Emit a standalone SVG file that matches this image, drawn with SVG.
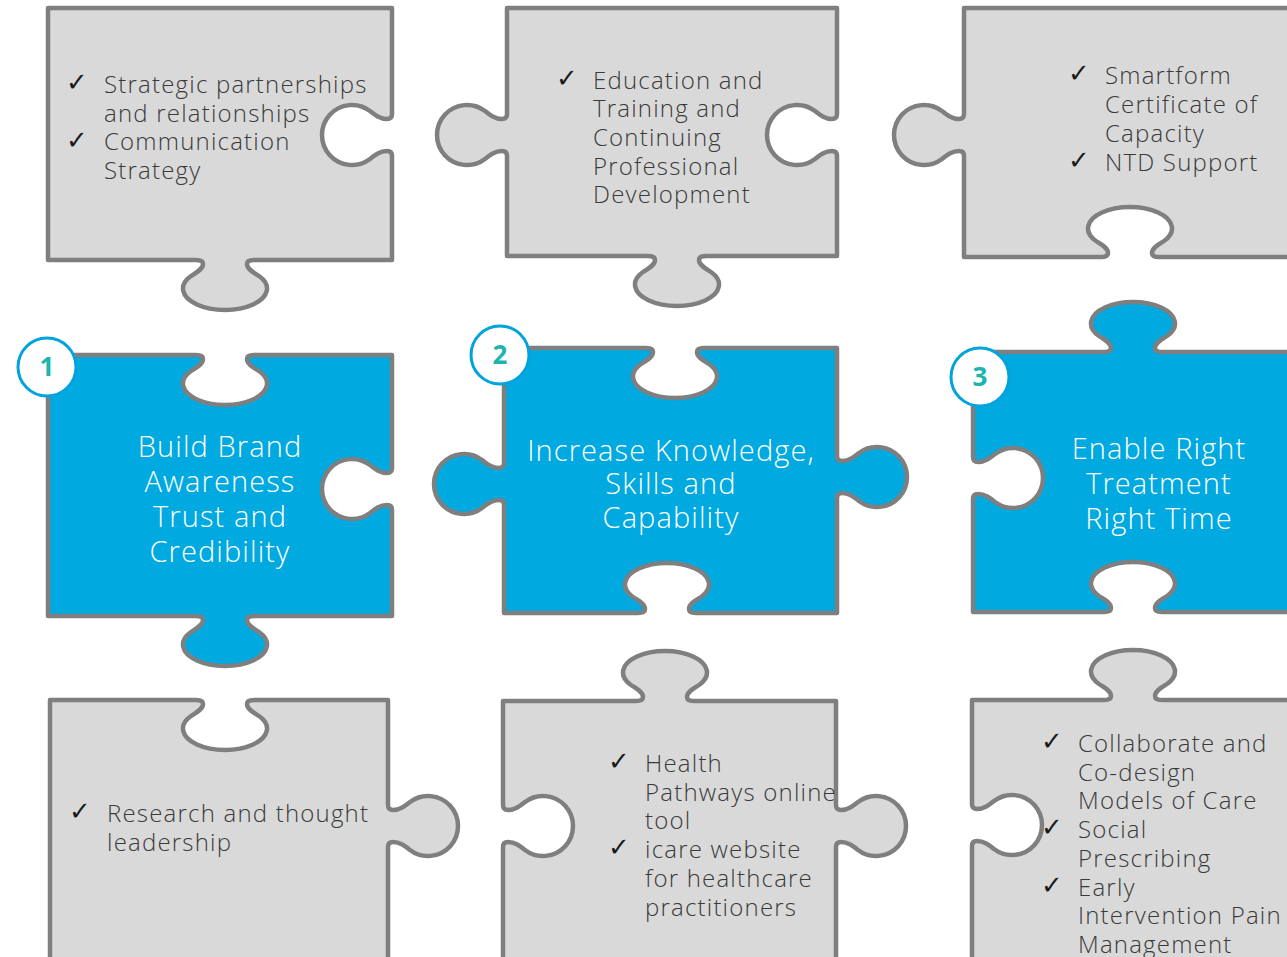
<svg xmlns="http://www.w3.org/2000/svg" width="1287" height="957" viewBox="0 0 1287 957">
<style>
.g{fill:#d9d9d9;stroke:#7f7f7f;stroke-width:4.5;stroke-linejoin:round}
.b{fill:#00a9e0;stroke:#7f7f7f;stroke-width:4.5;stroke-linejoin:round}
.t{font-family:"Open Sans","Liberation Sans",sans-serif;font-weight:300;font-size:24px;letter-spacing:1.2px;fill:#3a3a3a}
.ck{font-family:"DejaVu Sans",sans-serif;font-size:26px;fill:#1a1a1a}
.h{font-family:"Open Sans","Liberation Sans",sans-serif;font-weight:300;font-size:29px;letter-spacing:1.1px;fill:#ffffff;text-anchor:middle}
.bc{fill:#ffffff;stroke:#00a3dc;stroke-width:3}
.bn{font-family:"Open Sans","Liberation Sans",sans-serif;font-weight:700;font-size:26px;fill:#1cb5b0;text-anchor:middle}
</style>
<rect width="1287" height="957" fill="#ffffff"/>
<g id="piece-top-left">
<path class="g" d="M48 8 L392 8 L392 114 Q392 119 387 119 C380 119 375 115 370 111 A30 30 0 1 0 370 159 C375 155 380 151 387 151 Q392 151 392 156 L392 260 L254 260 Q247 260 247 264 C247 269 253 272 259 276 A42 21.4 0 1 1 191 276 C197 272 203 269 203 264 Q203 260 196 260 L48 260 Z"/>
<text class="ck" x="66" y="91">✓</text>
<text class="ck" x="66" y="149">✓</text>
<text class="t" x="104" y="93">Strategic partnerships</text>
<text class="t" x="104" y="122">and relationships</text>
<text class="t" x="104" y="150">Communication</text>
<text class="t" x="104" y="179">Strategy</text>
</g>
<g id="piece-top-middle">
<path class="g" d="M507 8 L837 8 L837 114 Q837 119 832 119 C825 119 820 115 815 111 A30 30 0 1 0 815 159 C820 155 825 151 832 151 Q837 151 837 156 L837 256 L706 256 Q699 256 699 260 C699 265 705 268 711 272 A42 21.4 0 1 1 643 272 C649 268 655 265 655 260 Q655 256 648 256 L507 256 L507 156 Q507 151 502 151 C495 151 490 155 485 159 A30 30 0 1 1 485 111 C490 115 495 119 502 119 Q507 119 507 114 L507 8 Z"/>
<text class="ck" x="556" y="87">✓</text>
<text class="t" x="593" y="89">Education and</text>
<text class="t" x="593" y="117">Training and</text>
<text class="t" x="593" y="146">Continuing</text>
<text class="t" x="593" y="175">Professional</text>
<text class="t" x="593" y="203">Development</text>
</g>
<g id="piece-top-right">
<path class="g" d="M964 8 L1300 8 L1300 257 L1159 257 Q1152 257 1152 253 C1152 248 1158 245 1164 241 A42 21.4 0 1 0 1096 241 C1102 245 1108 248 1108 253 Q1108 257 1101 257 L964 257 L964 156 Q964 151 959 151 C952 151 947 155 942 159 A30 30 0 1 1 942 111 C947 115 952 119 959 119 Q964 119 964 114 L964 8 Z"/>
<text class="ck" x="1068" y="82">✓</text>
<text class="ck" x="1068" y="169">✓</text>
<text class="t" x="1105" y="84">Smartform</text>
<text class="t" x="1105" y="113">Certificate of</text>
<text class="t" x="1105" y="142">Capacity</text>
<text class="t" x="1105" y="171">NTD Support</text>
</g>
<g id="piece-1">
<path class="b" d="M48 355 L196 355 Q203 355 203 359 C203 364 197 367 191 371 A42 21.4 0 1 0 259 371 C253 367 247 364 247 359 Q247 355 254 355 L392 355 L392 468 Q392 473 387 473 C380 473 375 469 370 465 A30 30 0 1 0 370 513 C375 509 380 505 387 505 Q392 505 392 510 L392 616 L254 616 Q247 616 247 620 C247 625 253 628 259 632 A42 21.4 0 1 1 191 632 C197 628 203 625 203 620 Q203 616 196 616 L48 616 Z"/>
<text class="h" x="220" y="457">Build Brand</text>
<text class="h" x="220" y="492">Awareness</text>
<text class="h" x="220" y="527">Trust and</text>
<text class="h" x="220" y="562">Credibility</text>
</g>
<g id="piece-2">
<path class="b" d="M504 348 L646 348 Q653 348 653 352 C653 357 647 360 641 364 A42 21.4 0 1 0 709 364 C703 360 697 357 697 352 Q697 348 704 348 L837 348 L837 456 Q837 461 842 461 C849 461 854 457 859 453 A30 30 0 1 1 859 501 C854 497 849 493 842 493 Q837 493 837 498 L837 613 L696 613 Q689 613 689 609 C689 604 695 601 701 597 A42 21.4 0 1 0 633 597 C639 601 645 604 645 609 Q645 613 638 613 L504 613 L504 505 Q504 500 499 500 C492 500 487 504 482 508 A30 30 0 1 1 482 460 C487 464 492 468 499 468 Q504 468 504 463 L504 348 Z"/>
<text class="h" x="671" y="461">Increase Knowledge,</text>
<text class="h" x="671" y="494">Skills and</text>
<text class="h" x="671" y="528">Capability</text>
</g>
<g id="piece-3">
<path class="b" d="M973 352 L1104 352 Q1111 352 1111 348 C1111 343 1105 340 1099 336 A42 21.4 0 1 1 1167 336 C1161 340 1155 343 1155 348 Q1155 352 1162 352 L1300 352 L1300 612 L1162 612 Q1155 612 1155 608 C1155 603 1161 600 1167 596 A42 21.4 0 1 0 1099 596 C1105 600 1111 603 1111 608 Q1111 612 1104 612 L973 612 L973 499 Q973 494 978 494 C985 494 990 498 995 502 A30 30 0 1 0 995 454 C990 458 985 462 978 462 Q973 462 973 457 L973 352 Z"/>
<text class="h" x="1159" y="459">Enable Right</text>
<text class="h" x="1159" y="494">Treatment</text>
<text class="h" x="1159" y="529">Right Time</text>
</g>
<g id="piece-bottom-left">
<path class="g" d="M50 700 L196 700 Q203 700 203 704 C203 709 197 712 191 716 A42 21.4 0 1 0 259 716 C253 712 247 709 247 704 Q247 700 254 700 L388 700 L388 805 Q388 810 393 810 C400 810 405 806 410 802 A30 30 0 1 1 410 850 C405 846 400 842 393 842 Q388 842 388 847 L388 970 L50 970 Z"/>
<text class="ck" x="69" y="820">✓</text>
<text class="t" x="107" y="822">Research and thought</text>
<text class="t" x="107" y="851">leadership</text>
</g>
<g id="piece-bottom-middle">
<path class="g" d="M503 701 L636 701 Q643 701 643 697 C643 692 637 689 631 685 A42 21.4 0 1 1 699 685 C693 689 687 692 687 697 Q687 701 694 701 L836 701 L836 805 Q836 810 841 810 C848 810 853 806 858 802 A30 30 0 1 1 858 850 C853 846 848 842 841 842 Q836 842 836 847 L836 970 L503 970 L503 847 Q503 842 508 842 C515 842 520 846 525 850 A30 30 0 1 0 525 802 C520 806 515 810 508 810 Q503 810 503 805 L503 701 Z"/>
<text class="ck" x="608" y="770">✓</text>
<text class="ck" x="608" y="856">✓</text>
<text class="t" x="645" y="772">Health</text>
<text class="t" x="645" y="801">Pathways online</text>
<text class="t" x="645" y="829">tool</text>
<text class="t" x="645" y="858">icare website</text>
<text class="t" x="645" y="887">for healthcare</text>
<text class="t" x="645" y="916">practitioners</text>
</g>
<g id="piece-bottom-right">
<path class="g" d="M972 700 L1104 700 Q1111 700 1111 696 C1111 691 1105 688 1099 684 A42 21.4 0 1 1 1167 684 C1161 688 1155 691 1155 696 Q1155 700 1162 700 L1300 700 L1300 970 L972 970 L972 846 Q972 841 977 841 C984 841 989 845 994 849 A30 30 0 1 0 994 801 C989 805 984 809 977 809 Q972 809 972 804 L972 700 Z"/>
<text class="ck" x="1041" y="750">✓</text>
<text class="ck" x="1041" y="836">✓</text>
<text class="ck" x="1041" y="894">✓</text>
<text class="t" x="1078" y="752">Collaborate and</text>
<text class="t" x="1078" y="781">Co-design</text>
<text class="t" x="1078" y="809">Models of Care</text>
<text class="t" x="1078" y="838">Social</text>
<text class="t" x="1078" y="867">Prescribing</text>
<text class="t" x="1078" y="896">Early</text>
<text class="t" x="1078" y="924">Intervention Pain</text>
<text class="t" x="1078" y="953">Management</text>
</g>
<g id="badge-1">
<circle class="bc" cx="47" cy="367" r="29"/>
<text class="bn" x="47" y="376">1</text>
</g>
<g id="badge-2">
<circle class="bc" cx="500" cy="355" r="29"/>
<text class="bn" x="500" y="364">2</text>
</g>
<g id="badge-3">
<circle class="bc" cx="980" cy="377" r="29"/>
<text class="bn" x="980" y="386">3</text>
</g>
<g id="connectors"/>
</svg>
